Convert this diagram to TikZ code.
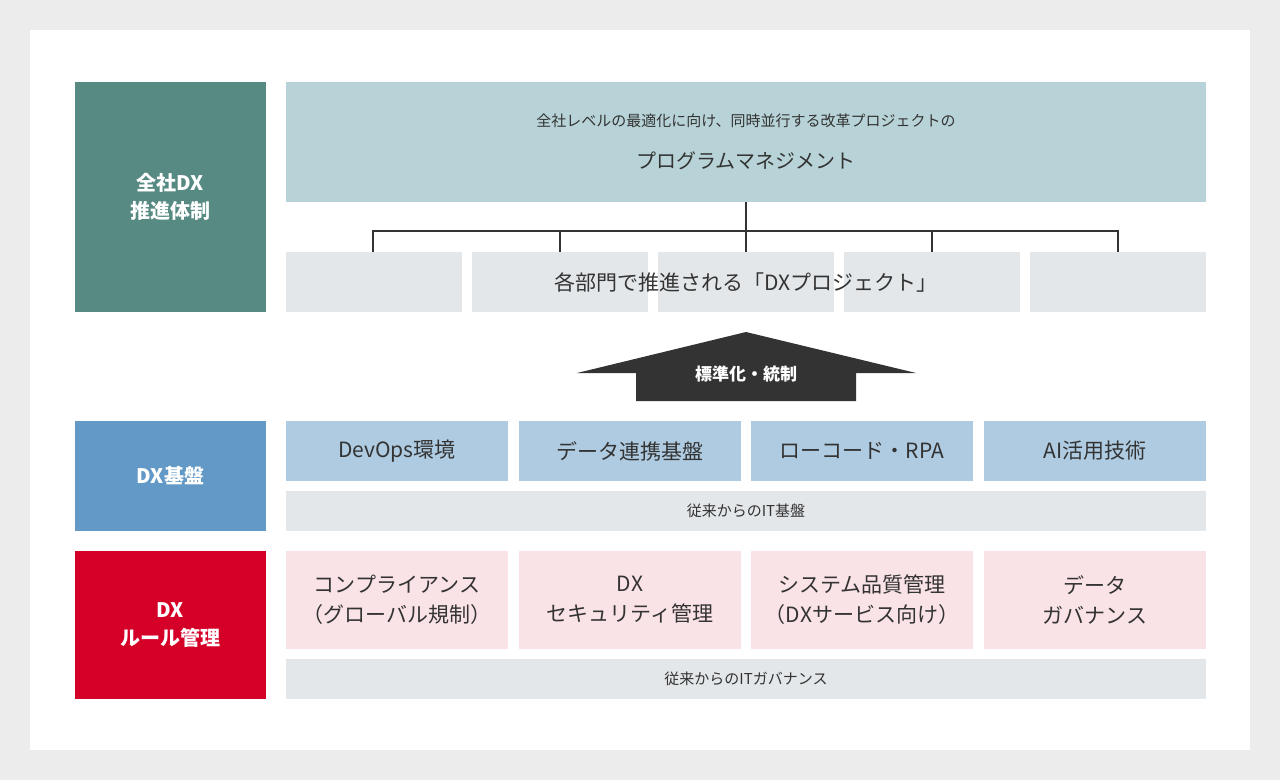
\documentclass[tikz,border=0pt]{standalone}
\usepackage{fontspec}
\setmainfont{Noto Sans CJK JP}
\definecolor{bg}{HTML}{ECECEC}
\definecolor{teal}{HTML}{568A82}
\definecolor{dxblue}{HTML}{6399C6}
\definecolor{dxred}{HTML}{D50028}
\definecolor{topbox}{HTML}{B8D3D7}
\definecolor{greybox}{HTML}{E3E7EA}
\definecolor{lblue}{HTML}{AECBE1}
\definecolor{lpink}{HTML}{FAE3E6}
\definecolor{txt}{HTML}{333333}
\begin{document}
\begin{tikzpicture}[x=1pt,y=-1pt,
 lab/.style={text=white,font=\fontsize{20}{28}\selectfont\bfseries,align=center},
 bt/.style={text=txt,font=\fontsize{21}{30}\selectfont,align=center},
 st/.style={text=txt,font=\fontsize{15}{20}\selectfont}]
\useasboundingbox (0,0) rectangle (1280,780);
\fill[bg] (0,0) rectangle (1280,780);
\fill[white] (30,30) rectangle (1250,750);
% left labels
\fill[teal] (75,82) rectangle (266,312);
\node[lab] (l1) at (170.5,197) {全社DX\\推進体制};
\fill[dxblue] (75,421) rectangle (266,531);
\node[lab] (l2) at (170.5,476) {DX基盤};
\fill[dxred] (75,551) rectangle (266,699);
\node[lab] (l3) at (170.5,625) {DX\\ルール管理};
% top
\fill[topbox] (286,82) rectangle (1206,202);
\node[st] (t1) at (746,121) {全社レベルの最適化に向け、同時並行する改革プロジェクトの};
\node[bt,font=\fontsize{20}{26}\selectfont] (t2) at (746,161) {プログラムマネジメント};
\foreach \a/\b in {286/462,472/648,658/834,844/1020,1030/1206}
  \fill[greybox] (\a,252) rectangle (\b,312);
\coordinate (r) at (746,202); \coordinate (j) at (746,231);
\draw[txt,line width=2.5pt] (r) -- (j);
\draw[txt,line width=2.5pt] (373,252) |- (1118,231) -- (1118,252);
\foreach \x in {560,746,932} \draw[txt,line width=2.5pt] (\x,231) -- (\x,252);
\node[bt] (p) at (746,282) {各部門で推進される「DXプロジェクト」};
% arrow
\fill[txt] (577,373) -- (746,332) -- (916,373) -- (856,373) -- (856,401) -- (636,401) -- (636,373) -- cycle;
\node[text=white,font=\fontsize{17}{20}\selectfont\bfseries] (ar) at (746,374) {標準化・統制};
% DX base
\foreach \a/\b/\t in {286/508/DevOps環境,519/741/データ連携基盤,751/973/ローコード・RPA,984/1206/AI活用技術}{
  \fill[lblue] (\a,421) rectangle (\b,481);
  \node[bt] at ({(\a+\b)/2},451) {\t};}
\fill[greybox] (286,491) rectangle (1206,531);
\node[st] (b1) at (746,511) {従来からのIT基盤};
% rules
\foreach \a/\b/\t in {286/508/{コンプライアンス\\（グローバル規制）},519/741/{DX\\セキュリティ管理},751/973/{システム品質管理\\（DXサービス向け）},984/1206/{データ\\ガバナンス}}{
  \fill[lpink] (\a,551) rectangle (\b,649);
  \node[bt] at ({(\a+\b)/2},600) {\t};}
\fill[greybox] (286,659) rectangle (1206,699);
\node[st] (b2) at (746,679) {従来からのITガバナンス};
\end{tikzpicture}
\end{document}
